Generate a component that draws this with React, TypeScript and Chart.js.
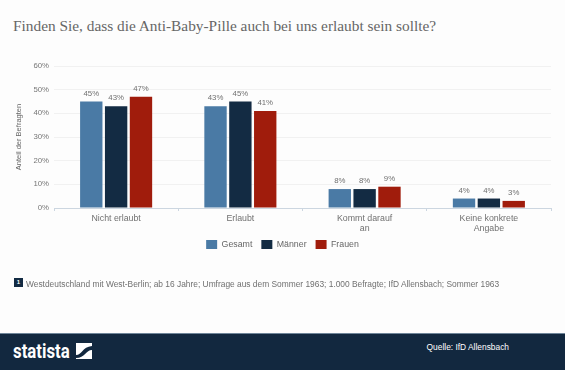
import React, { useEffect, useRef } from "react";
import { Chart, registerables } from "chart.js";

Chart.register(...registerables);

const categories = ["Nicht erlaubt", "Erlaubt", ["Kommt darauf", "an"], ["Keine konkrete", "Angabe"]];
const gesamt = [45, 43, 8, 4];
const maenner = [43, 45, 8, 4];
const frauen = [47, 41, 9, 3];
const yTicks = [0, 10, 20, 30, 40, 50, 60];

const sans = "'Liberation Sans', Arial, sans-serif";

const valueLabels = {
  id: "valueLabels",
  afterDatasetsDraw(chart: any) {
    const { ctx } = chart;
    ctx.save();
    ctx.font = `7.8px ${sans}`;
    ctx.fillStyle = "#707070";
    ctx.textAlign = "center";
    ctx.textBaseline = "bottom";
    chart.data.datasets.forEach((ds: any, i: number) => {
      chart.getDatasetMeta(i).data.forEach((bar: any, j: number) => {
        ctx.fillText(`${ds.data[j]}%`, bar.x, bar.y - 4);
      });
    });
    ctx.restore();
  },
};

const liftLegend = {
  id: "liftLegend",
  afterLayout(chart: any) {
    if (chart.legend) {
      chart.legend.top -= 8;
      chart.legend.bottom -= 8;
      chart.legend.adjustHitBoxes();
    }
  },
};

export default function App() {
  const ref = useRef<HTMLCanvasElement>(null);
  useEffect(() => {
    const chart = new Chart(ref.current!, {
      type: "bar",
      data: {
        labels: categories as any,
        datasets: [
          { label: "Gesamt", data: gesamt, backgroundColor: "#4a7aa5" },
          { label: "Männer", data: maenner, backgroundColor: "#132b43" },
          { label: "Frauen", data: frauen, backgroundColor: "#a01c0c" },
        ],
      },
      options: {
        responsive: false,
        animation: false,
        layout: { padding: { left: 14, right: 14, top: 66, bottom: 103 } },
        datasets: { bar: { categoryPercentage: 0.6, barPercentage: 0.9 } },
        plugins: {
          title: { display: false },
          tooltip: { enabled: false },
          legend: {
            position: "bottom",
            labels: {
              boxWidth: 11,
              boxHeight: 9,
              padding: 9,
              color: "#666",
              font: { family: sans, size: 8.8 },
            },
          },
        },
        scales: {
          x: {
            afterFit: (s: any) => { s.height = 31; },
            grid: { drawOnChartArea: false, color: "#ccd6e0", tickLength: 3 },
            border: { color: "#ccd6e0" },
            ticks: {
              color: "#707070",
              padding: 3,
              maxRotation: 0,
              autoSkip: false,
              font: { family: sans, size: 8.8, lineHeight: 1.1 },
            },
          },
          y: {
            min: 0,
            max: 60,
            afterFit: (s: any) => { s.width = 40; },
            afterBuildTicks: (s: any) => { s.ticks = yTicks.map((value) => ({ value })); },
            grid: { color: "#f1f1f1", drawTicks: false },
            border: { display: false },
            ticks: {
              color: "#777",
              padding: 5,
              font: { family: sans, size: 7.8 },
              callback: (v: any) => `${v}%`,
            },
            title: {
              display: true,
              text: "Anteil der Befragten",
              color: "#666",
              padding: 0,
              font: { family: sans, size: 7.5 },
            },
          },
        },
      },
      plugins: [valueLabels, liftLegend],
    } as any);
    return () => chart.destroy();
  }, []);

  return (
    <div style={{ position: "fixed", left: 0, top: 0, width: 565, height: 370, overflow: "hidden", background: "#fdfdfd" }}>
      <div style={{ position: "absolute", left: 13, top: 17, fontFamily: "'Liberation Serif', serif", fontSize: 15.35, color: "#666", whiteSpace: "nowrap" }}>
        Finden Sie, dass die Anti-Baby-Pille auch bei uns erlaubt sein sollte?
      </div>
      <canvas ref={ref} width={565} height={370} style={{ position: "absolute", left: 0, top: 0 }} />
      <div style={{ position: "absolute", left: 14, top: 278, width: 9, height: 9, background: "#132b43", color: "#fff", fontFamily: sans, fontSize: 6, fontWeight: 700, lineHeight: "9px", textAlign: "center" }}>1</div>
      <div style={{ position: "absolute", left: 26, top: 279, fontFamily: sans, fontSize: 8.4, color: "#707070", whiteSpace: "nowrap" }}>
        Westdeutschland mit West-Berlin; ab 16 Jahre; Umfrage aus dem Sommer 1963; 1.000 Befragte; IfD Allensbach; Sommer 1963
      </div>
      <div style={{ position: "absolute", left: 0, top: 333, width: 565, height: 37, background: "#12283f" }}>
        <div style={{ position: "absolute", left: 0, top: 0, width: 565, height: 1, background: "#6f8599" }} />
        <div style={{ position: "absolute", left: 13, top: 6, fontFamily: "Roboto, sans-serif", fontWeight: 700, fontSize: 21, color: "#fff", transform: "scaleX(0.8)", transformOrigin: "left center", whiteSpace: "nowrap" }}>statista</div>
        <svg style={{ position: "absolute", left: 76, top: 10 }} width={16} height={16} viewBox="0 0 16 16">
          <rect width="16" height="16" fill="#fff" />
          <path d="M0 12 C6 12 6 4 16 3 L16 7 C10 7 9 15 0 15Z" fill="#12283f" />
        </svg>
        <div style={{ position: "absolute", right: 56, top: 9, fontFamily: sans, fontSize: 8.4, color: "#fff", whiteSpace: "nowrap" }}>Quelle: IfD Allensbach</div>
      </div>
    </div>
  );
}
